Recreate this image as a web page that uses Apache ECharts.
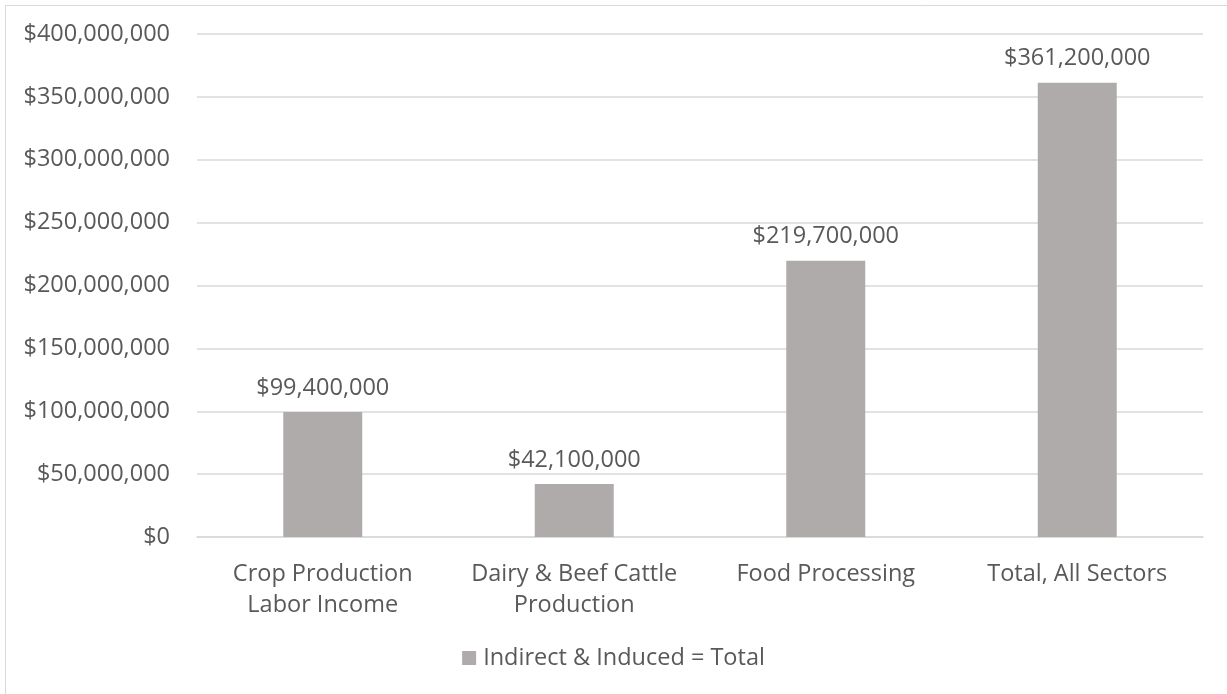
<!DOCTYPE html>
<html>
<head>
<meta charset="utf-8">
<script src="https://cdn.jsdelivr.net/npm/echarts@6/dist/echarts.min.js"></script>
<style>
  html, body { margin: 0; padding: 0; background: #ffffff; }
  #chart { width: 1227px; height: 694px; }
</style>
</head>
<body>
<div id="chart"></div>
<script>
// Sector labels (line breaks as shown under the axis)
const categories = [
  'Crop Production\nLabor Income',
  'Dairy & Beef Cattle\nProduction',
  'Food Processing',
  'Total, All Sectors'
];
// Indirect & induced impact, dollars
const values = [99400000, 42100000, 219700000, 361200000];
const seriesName = 'Indirect & Induced = Total';
const yMin = 0;
const yMax = 400000000;
const yStep = 50000000;

const FONT = 'Open Sans';
const TEXT = '#595959';
const BAR = '#AFABAB';
const SIZE = 23.5;

function money(v) {
  return '$' + Math.round(v).toString().replace(/\B(?=(\d{3})+(?!\d))/g, ',');
}

const chart = echarts.init(document.getElementById('chart'), null, { renderer: 'canvas' });
chart.setOption({
  animation: false,
  backgroundColor: '#ffffff',
  textStyle: { fontFamily: FONT, color: TEXT },
  graphic: [{
    type: 'rect',
    shape: { x: 5.5, y: 5.5, width: 1240, height: 720 },
    style: { fill: 'none', stroke: '#d9d9d9', lineWidth: 1 },
    silent: true,
    z: -1
  }],
  grid: { left: 197, right: 24, top: 34, bottom: 157, containLabel: false },
  legend: {
    bottom: 19,
    left: 'center',
    itemWidth: 14,
    itemHeight: 14,
    icon: 'rect',
    itemGap: 8,
    textStyle: { fontFamily: FONT, fontSize: SIZE, color: TEXT, padding: [0, 0, 0, 2] },
    data: [seriesName]
  },
  xAxis: {
    type: 'category',
    data: categories,
    axisLine: { lineStyle: { color: '#d9d9d9', width: 1.5 } },
    axisTick: { show: false },
    axisLabel: {
      fontFamily: FONT, fontSize: SIZE, color: TEXT,
      lineHeight: 31, margin: 22, interval: 0
    }
  },
  yAxis: {
    type: 'value',
    min: yMin,
    max: yMax,
    interval: yStep,
    axisLine: { show: false },
    axisTick: { show: false },
    splitLine: { lineStyle: { color: '#d9d9d9', width: 1.5 } },
    axisLabel: {
      fontFamily: FONT, fontSize: SIZE, color: TEXT, margin: 27,
      formatter: money
    }
  },
  series: [{
    name: seriesName,
    type: 'bar',
    data: values,
    barWidth: '31.4%',
    itemStyle: { color: BAR },
    label: {
      show: true,
      position: 'top',
      distance: 12,
      fontFamily: FONT,
      fontSize: SIZE,
      color: TEXT,
      formatter: p => money(p.value)
    }
  }]
});
</script>
</body>
</html>
